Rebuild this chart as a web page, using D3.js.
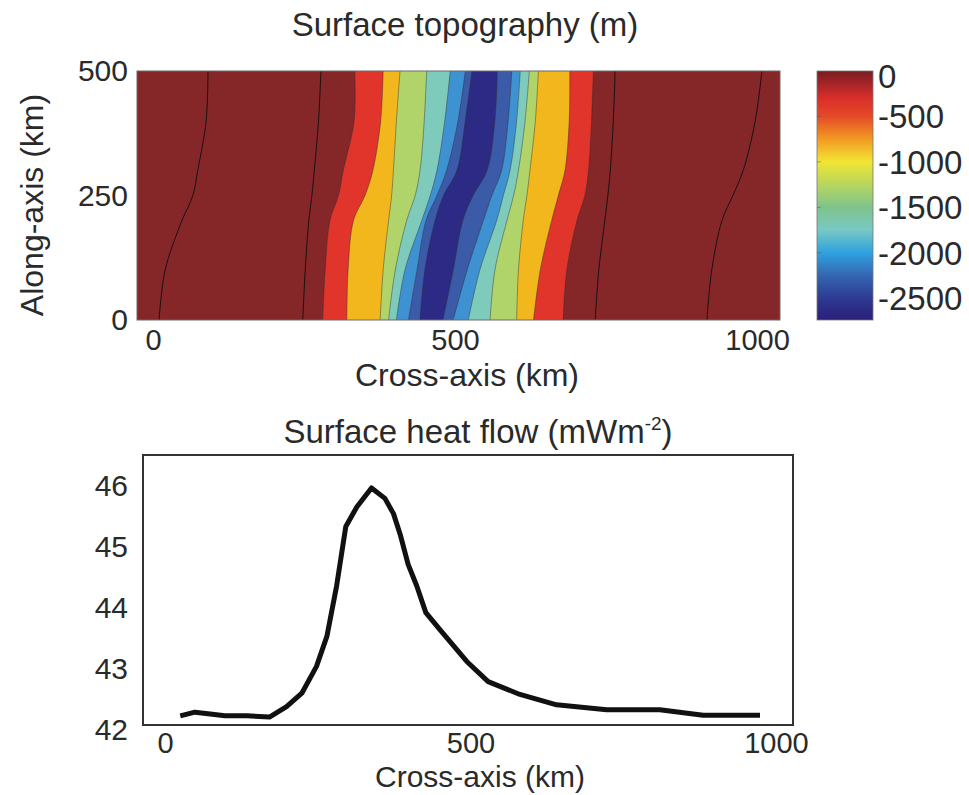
<!DOCTYPE html>
<html>
<head>
<meta charset="utf-8">
<script src="https://cdn.jsdelivr.net/npm/d3@7"></script>
<style>
    body { margin: 0; background: #fff; }
    text { font-family: Arial, "Liberation Sans", Helvetica, sans-serif; fill: #2a2a2a; }
</style>
</head>
<body>
<div id="svg_container"></div>
<script>
const alongKm = [0, 100, 200, 250, 300, 400, 500];

// Cross-axis position (km) of each filled contour edge, one value per row
const redLeft = [281, 285, 293, 307, 315, 333, 334];
const redRight = [679, 685, 702, 715, 721, 726, 729];
const orangeLeft = [321, 323, 332, 351, 364, 377, 381];
const orangeRight = [630, 641, 660, 671, 682, 689, 690];
const greenLeft = [376, 381, 390, 395, 398, 403, 409];
const greenRight = [602, 605, 613, 619, 624, 633, 638];
const tealLeft = [390, 401, 420, 434, 442, 449, 453];
const tealRight = [558, 566, 586, 597, 605, 616, 623];
const blueLeft = [403, 417, 445, 459, 470, 483, 492];
const blueRight = [522, 541, 569, 580, 591, 602, 608];
const midBlueLeft = [423, 437, 452, 470, 486, 505, 517];
const midBlueRight = [497, 520, 547, 561, 577, 588, 594];
const navyLeft = [442, 450, 467, 481, 503, 517, 528];
const navyRight = [480, 497, 513, 530, 553, 566, 570];

// thin black contours inside the shallow (dark red) band
const contourA = [10, 20, 48, 66, 74, 88, 91];
const contourB = [248, 252, 258, 263, 267, 274, 278];
const contourC = [732, 738, 748, 753, 757, 762, 765];
const contourD = [917, 925, 942, 960, 977, 997, 1008];

// colour bar
const colorbarTicks = [0, -500, -1000, -1500, -2000, -2500];
const colorbarMin = -2740;

// surface heat flow profile
const heatX = [25, 49, 74, 98, 134, 171, 199, 224, 248, 265, 281, 296, 314, 338, 360, 374,
    385, 398, 412, 427, 450, 494, 529, 581, 641, 723, 810, 881, 974];
const heatQ = [42.23, 42.29, 42.26, 42.23, 42.23, 42.21, 42.38, 42.6, 43.04, 43.53, 44.36, 45.33,
    45.65, 45.96, 45.79, 45.54, 45.2, 44.71, 44.36, 43.92, 43.64, 43.12, 42.79, 42.58, 42.41,
    42.33, 42.33, 42.24, 42.24];

const topoXTicks = [0, 500, 1000];
const topoYTicks = [0, 250, 500];
const heatXTicks = [0, 500, 1000];
const heatYTicks = [42, 43, 44, 45, 46];

function createChart() {
    let width = 969;
    let height = 795;
    const svg = d3.select('#svg_container').append("svg")
        .attr("width", width)
        .attr("height", height);

    const fmt = d3.format("d");

    // ---------- top panel: surface topography ----------
    const x = d3.scaleLinear().domain([-26.5, 1038]).range([137, 780]);
    const y = d3.scaleLinear().domain([0, 500]).range([320, 71]);

    const bands = [
        { left: redLeft, right: redRight, color: "#e1342b" },
        { left: orangeLeft, right: orangeRight, color: "#f3b71e" },
        { left: greenLeft, right: greenRight, color: "#b1d46a" },
        { left: tealLeft, right: tealRight, color: "#7fcbbb" },
        { left: blueLeft, right: blueRight, color: "#3f92d2" },
        { left: midBlueLeft, right: midBlueRight, color: "#3b5ba8" },
        { left: navyLeft, right: navyRight, color: "#2c2a84" }
    ];

    const curve = d3.curveCatmullRom.alpha(0.5);
    const area = d3.area()
        .curve(curve)
        .y(d => y(d.y))
        .x0(d => x(d.l))
        .x1(d => x(d.r));
    const edge = d3.line()
        .curve(curve)
        .x(d => x(d.x))
        .y(d => y(d.y));

    const topo = svg.append("g");
    topo.append("rect")
        .attr("x", x.range()[0]).attr("y", y.range()[1])
        .attr("width", x.range()[1] - x.range()[0])
        .attr("height", y.range()[0] - y.range()[1])
        .attr("fill", "#852628");

    bands.forEach(b => {
        let pts = alongKm.map((a, i) => ({ y: a, l: b.left[i], r: b.right[i] }));
        topo.append("path")
            .attr("d", area(pts))
            .attr("fill", b.color);
        [b.left, b.right].forEach(side => {
            topo.append("path")
                .attr("d", edge(alongKm.map((a, i) => ({ x: side[i], y: a }))))
                .attr("fill", "none")
                .attr("stroke", "#2b2b2b")
                .attr("stroke-opacity", 0.55)
                .attr("stroke-width", 0.8);
        });
    });

    [contourA, contourB, contourC, contourD].forEach(c => {
        topo.append("path")
            .attr("d", edge(alongKm.map((a, i) => ({ x: c[i], y: a }))))
            .attr("fill", "none")
            .attr("stroke", "#1c1010")
            .attr("stroke-width", 1);
    });

    topo.append("rect")
        .attr("x", x.range()[0]).attr("y", y.range()[1])
        .attr("width", x.range()[1] - x.range()[0])
        .attr("height", y.range()[0] - y.range()[1])
        .attr("fill", "none")
        .attr("stroke", "#6b6b6b")
        .attr("stroke-width", 1);

    svg.append("g")
        .attr("transform", "translate(0,320)")
        .call(d3.axisBottom(x).tickValues(topoXTicks).tickFormat(fmt).tickSize(0).tickPadding(9))
        .call(g => g.select(".domain").remove())
        .selectAll("text").attr("font-size", 29);

    svg.append("g")
        .attr("transform", "translate(137,0)")
        .call(d3.axisLeft(y).tickValues(topoYTicks).tickFormat(fmt).tickSize(0).tickPadding(9))
        .call(g => g.select(".domain").remove())
        .selectAll("text").attr("font-size", 30);

    svg.append("text")
        .attr("x", 465).attr("y", 36)
        .attr("text-anchor", "middle")
        .attr("font-size", 33)
        .text("Surface topography (m)");

    svg.append("text")
        .attr("x", 467).attr("y", 386)
        .attr("text-anchor", "middle")
        .attr("font-size", 32)
        .text("Cross-axis (km)");

    svg.append("text")
        .attr("transform", "translate(43,205) rotate(-90)")
        .attr("text-anchor", "middle")
        .attr("font-size", 32)
        .text("Along-axis (km)");

    // colour bar
    const cy = d3.scaleLinear().domain([colorbarMin, 0]).range([320, 71]);
    const cbarStops = [
        [0, "#7a1c20"], [-150, "#a82527"], [-300, "#da2e2a"], [-500, "#e54a28"],
        [-750, "#f29a22"], [-1000, "#f2e534"], [-1250, "#b7d65e"], [-1500, "#7fc48c"],
        [-1750, "#78c8c4"], [-2000, "#2ea2df"], [-2250, "#3566b2"], [-2500, "#2d3a92"],
        [colorbarMin, "#2b1f79"]
    ];
    const grad = svg.append("defs").append("linearGradient")
        .attr("id", "cbar")
        .attr("x1", 0).attr("y1", 0).attr("x2", 0).attr("y2", 1);
    grad.selectAll("stop")
        .data(cbarStops)
        .join("stop")
        .attr("offset", d => (cy(d[0]) - 71) / (320 - 71))
        .attr("stop-color", d => d[1]);

    svg.append("rect")
        .attr("x", 817).attr("y", 71)
        .attr("width", 56).attr("height", 249)
        .attr("fill", "url(#cbar)")
        .attr("stroke", "#777")
        .attr("stroke-width", 0.8);

    svg.append("g")
        .selectAll("line")
        .data(colorbarTicks.slice(1))
        .join("line")
        .attr("x1", 817).attr("x2", 821)
        .attr("y1", d => cy(d)).attr("y2", d => cy(d))
        .attr("stroke", "#555").attr("stroke-opacity", 0.5);

    svg.append("g")
        .selectAll("text")
        .data(colorbarTicks)
        .join("text")
        .attr("x", 878)
        .attr("y", d => Math.max(cy(d), 76))
        .attr("dy", "0.36em")
        .attr("font-size", 33)
        .text(d => d);

    // ---------- bottom panel: surface heat flow ----------
    const hx = d3.scaleLinear().domain([-36, 1028]).range([143, 793]);
    const hy = d3.scaleLinear().domain([42.08, 46.5]).range([725, 455]);

    svg.append("rect")
        .attr("x", 143).attr("y", 455)
        .attr("width", 650).attr("height", 270)
        .attr("fill", "none")
        .attr("stroke", "#333")
        .attr("stroke-width", 2);

    svg.append("path")
        .datum(heatX.map((v, i) => ({ x: v, q: heatQ[i] })))
        .attr("fill", "none")
        .attr("stroke", "#111")
        .attr("stroke-width", 5)
        .attr("stroke-linejoin", "round")
        .attr("d", d3.line().x(d => hx(d.x)).y(d => hy(d.q)));

    svg.append("g")
        .attr("transform", "translate(0,725)")
        .call(d3.axisBottom(hx).tickValues(heatXTicks).tickFormat(fmt).tickSize(0).tickPadding(7))
        .call(g => g.select(".domain").remove())
        .selectAll("text").attr("font-size", 29);

    svg.append("g")
        .attr("transform", "translate(143,0)")
        .call(d3.axisLeft(hy).tickValues(heatYTicks).tickFormat(fmt).tickSize(0).tickPadding(15))
        .call(g => g.select(".domain").remove())
        .selectAll("text").attr("font-size", 30);

    const ht = svg.append("text")
        .attr("x", 478).attr("y", 443)
        .attr("text-anchor", "middle")
        .attr("font-size", 33);
    ht.append("tspan").text("Surface heat flow (mWm");
    ht.append("tspan").attr("font-size", 19).attr("dy", -13).text("-2");
    ht.append("tspan").attr("dy", 13).text(")");

    svg.append("text")
        .attr("x", 480).attr("y", 787)
        .attr("text-anchor", "middle")
        .attr("font-size", 30)
        .text("Cross-axis (km)");
}

document.addEventListener('DOMContentLoaded', function (e) {
    createChart();
});
</script>
</body>
</html>
